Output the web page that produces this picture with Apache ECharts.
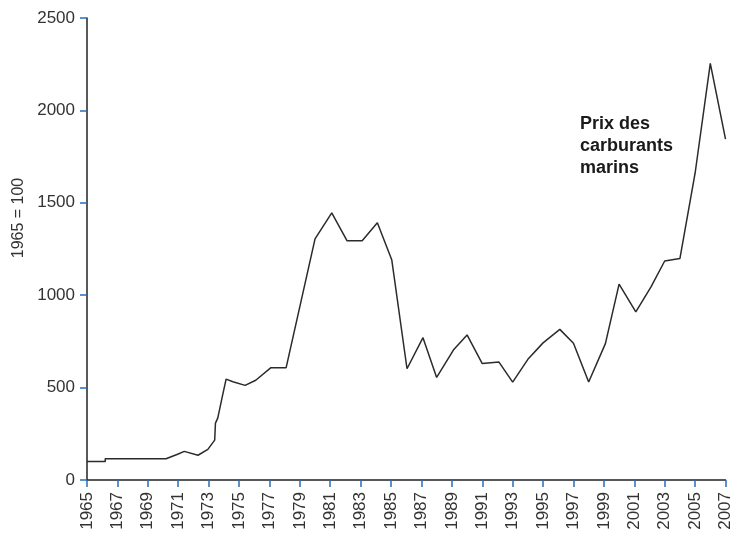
<!DOCTYPE html>
<html>
<head>
<meta charset="utf-8">
<script src="https://cdn.jsdelivr.net/npm/echarts@6/dist/echarts.min.js"></script>
<style>
  html, body { margin: 0; padding: 0; background: #fff; }
  #chart { width: 734px; height: 536px; }
</style>
</head>
<body>
<div id="chart"></div>
<script>
// Indice des prix des carburants marins (1965 = 100)
const baseYear = 1965
const years = [
  1965, 1966.2, 1966.2, 1969.6, 1970.2, 1971.0, 1971.4, 1972.3, 1972.95, 1973.4,
  1973.45, 1973.6, 1973.9, 1974.15, 1974.6, 1975.4, 1976.1, 1977.1, 1978.1, 1979.0,
  1980.0, 1981.1, 1982.1, 1983.1, 1984.1, 1985.05, 1986.05, 1987.1, 1988.0, 1989.1,
  1990.0, 1991.0, 1992.1, 1993.0, 1994.0, 1995.0, 1996.1, 1997.0, 1998.0, 1999.1,
  2000.0, 2001.1, 2002.1, 2003.0, 2004.0, 2005.0, 2006.0, 2007.0
]
const values = [
  100, 100, 115, 115, 115, 141, 155, 134, 166, 216,
  308, 335, 451, 546, 532, 512, 540, 608, 608, 938,
  1305, 1445, 1295, 1295, 1392, 1190, 602, 770, 555, 703,
  785, 630, 638, 530, 653, 742, 815, 740, 530, 738,
  1060, 910, 1045, 1185, 1198, 1660, 2255, 1845
]
const yTicks = [0, 500, 1000, 1500, 2000, 2500]
const yAxisTitle = '1965 = 100'
const seriesLabel = 'Prix des\ncarburants\nmarins'

const chart = echarts.init(document.getElementById('chart'))

const tickColor = '#2a6db5'
const textColor = '#333'
const font = 'Liberation Sans, Arial, sans-serif'

chart.setOption({
  backgroundColor: '#fff',
  animation: false,
  grid: { left: 87, right: 5, top: 18, bottom: 56, containLabel: false },
  xAxis: {
    type: 'value',
    min: 0,
    max: 2007 - baseYear,
    interval: 2,
    axisLine: { show: true, lineStyle: { color: '#222', width: 1.5 } },
    axisTick: { show: true, length: 7, lineStyle: { color: tickColor, width: 1.5 } },
    splitLine: { show: false },
    axisLabel: {
      rotate: 90,
      margin: 12,
      color: textColor,
      fontSize: 17,
      fontFamily: font,
      formatter: (v) => String(baseYear + v)
    }
  },
  yAxis: {
    type: 'value',
    min: yTicks[0],
    max: yTicks[yTicks.length - 1],
    interval: 500,
    axisLine: { show: true, lineStyle: { color: '#222', width: 1.5 } },
    axisTick: { show: true, length: 7, lineStyle: { color: tickColor, width: 1.5 } },
    splitLine: { show: false },
    axisLabel: {
      margin: 12,
      color: textColor,
      fontSize: 17,
      fontFamily: font,
      formatter: (v) => String(v)
    }
  },
  graphic: [
    {
      type: 'text',
      x: 19,
      y: 218,
      rotation: Math.PI / 2,
      style: {
        text: yAxisTitle,
        fill: textColor,
        font: '16px "Liberation Sans", Arial, sans-serif',
        align: 'center',
        verticalAlign: 'middle'
      }
    },
    {
      type: 'text',
      left: 580,
      top: 113,
      style: {
        text: seriesLabel,
        fill: '#1a1a1a',
        font: 'bold 18px "Liberation Sans", Arial, sans-serif',
        lineHeight: 22
      }
    }
  ],
  series: [
    {
      type: 'line',
      data: years.map((y, i) => [y - baseYear, values[i]]),
      symbol: 'none',
      smooth: false,
      lineStyle: { color: '#2b2b2b', width: 1.5 }
    }
  ]
})
</script>
</body>
</html>
